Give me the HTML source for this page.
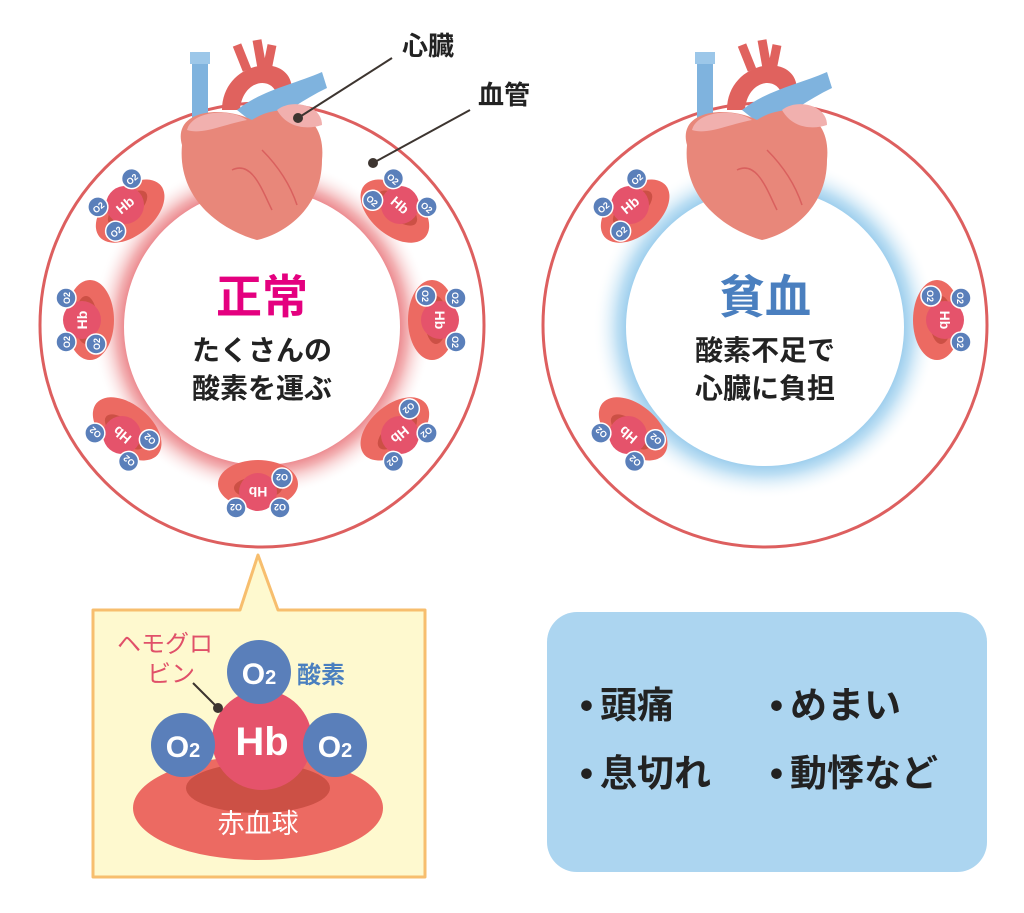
<!DOCTYPE html>
<html><head><meta charset="utf-8"><style>
body{margin:0;background:#fff;}
svg text{font-family:"Liberation Sans","Noto Sans CJK JP",sans-serif;}
</style></head><body>
<svg width="1024" height="908" viewBox="0 0 1024 908" xmlns="http://www.w3.org/2000/svg">
<defs>
<radialGradient id="pg" cx="0.5" cy="0.5" r="0.5">
<stop offset="0.78" stop-color="#e8737a"/><stop offset="0.86" stop-color="#f3b3b5"/><stop offset="1" stop-color="#fff" stop-opacity="0"/>
</radialGradient>
<radialGradient id="bg" cx="0.5" cy="0.5" r="0.5">
<stop offset="0.78" stop-color="#8ec6ea"/><stop offset="0.86" stop-color="#bfe0f4"/><stop offset="1" stop-color="#fff" stop-opacity="0"/>
</radialGradient>
<g id="cell">
<ellipse cx="0" cy="8" rx="40" ry="24" fill="#ec6a62"/>
<ellipse cx="0" cy="4" rx="24" ry="11" fill="#cc5045"/>
<circle cx="0" cy="0" r="19" fill="#e5536b"/>
<text x="0" y="5" font-size="14" font-weight="bold" fill="#fff" text-anchor="middle">Hb</text>
<circle cx="-22" cy="-16" r="10" fill="#5a7fba" stroke="#fff" stroke-width="1.5"/>
<circle cx="22" cy="-16" r="10" fill="#5a7fba" stroke="#fff" stroke-width="1.5"/>
<circle cx="-24" cy="14" r="10" fill="#5a7fba" stroke="#fff" stroke-width="1.5"/>
<text x="-22" y="-12" font-size="9" font-weight="bold" fill="#fff" text-anchor="middle">O2</text>
<text x="22" y="-12" font-size="9" font-weight="bold" fill="#fff" text-anchor="middle">O2</text>
<text x="-24" y="18" font-size="9" font-weight="bold" fill="#fff" text-anchor="middle">O2</text>
</g>
<g id="heart">
<path d="M-60,-90 h16 v120 h-16 z" fill="#7fb3de"/>
<path d="M-62,-98 h20 v12 h-20z" fill="#9cc7e9"/>
<path d="M-30,-40 C-30,-90 40,-100 40,-60 L25,-55 C20,-75 -10,-70 -12,-40 z" fill="#e0625e"/>
<path d="M-15,-105 l10,25 M5,-110 l5,28 M20,-105 l-5,25" stroke="#e0625e" stroke-width="9"/>
<path d="M-15,-40 C10,-60 40,-65 70,-78 L75,-62 C50,-50 30,-35 10,-20 z" fill="#7fb3de"/>
<path d="M-70,-5 C-80,-40 -30,-45 0,-30 C30,-50 75,-40 70,10 C70,60 30,85 5,90 C-30,80 -75,50 -70,-5 z" fill="#e8877a"/>
<path d="M-65,-20 C-60,-40 -20,-42 -5,-30 C-30,-25 -50,-15 -65,-20z" fill="#f1b0ae"/>
<path d="M25,-40 C40,-52 70,-45 70,-25 C55,-20 35,-22 25,-40z" fill="#f1b0ae"/>
<path d="M-20,20 C0,10 10,40 20,60 M10,0 C30,20 40,40 45,55" stroke="#d9605e" stroke-width="1.5" fill="none"/>
</g>
</defs>

<circle cx="262" cy="325" r="222" fill="#fff" stroke="#dd5f5f" stroke-width="3"/>
<circle cx="262" cy="327" r="170" fill="url(#pg)"/>
<circle cx="262" cy="327" r="138" fill="#fff"/>
<use href="#heart" x="252" y="150"/>
<use href="#cell" x="125" y="205" transform="rotate(-40 125 205)"/>
<use href="#cell" x="400" y="205" transform="rotate(40 400 205)"/>
<use href="#cell" x="82" y="320" transform="rotate(-90 82 320)"/>
<use href="#cell" x="440" y="320" transform="rotate(90 440 320)"/>
<use href="#cell" x="122" y="435" transform="rotate(-140 122 435)"/>
<use href="#cell" x="400" y="435" transform="rotate(140 400 435)"/>
<use href="#cell" x="258" y="492" transform="rotate(180 258 492)"/>
<text x="262" y="313" font-size="46" font-weight="bold" fill="#e4007f" text-anchor="middle">正常</text>
<text x="262" y="360" font-size="28" font-weight="bold" fill="#222" text-anchor="middle">たくさんの</text>
<text x="262" y="398" font-size="28" font-weight="bold" fill="#222" text-anchor="middle">酸素を運ぶ</text>

<line x1="298" y1="118" x2="392" y2="58" stroke="#3d3530" stroke-width="2"/>
<circle cx="298" cy="118" r="5" fill="#3d3530"/>
<line x1="373" y1="163" x2="470" y2="110" stroke="#3d3530" stroke-width="2"/>
<circle cx="373" cy="163" r="5" fill="#3d3530"/>
<text x="402" y="55" font-size="26" font-weight="bold" fill="#222">心臓</text>
<text x="478" y="104" font-size="26" font-weight="bold" fill="#222">血管</text>

<circle cx="765" cy="325" r="222" fill="#fff" stroke="#dd5f5f" stroke-width="3"/>
<circle cx="765" cy="327" r="172" fill="url(#bg)"/>
<circle cx="765" cy="327" r="139" fill="#fff"/>
<use href="#heart" x="757" y="150"/>
<use href="#cell" x="630" y="205" transform="rotate(-40 630 205)"/>
<use href="#cell" x="945" y="320" transform="rotate(90 945 320)"/>
<use href="#cell" x="628" y="435" transform="rotate(-140 628 435)"/>
<text x="765" y="313" font-size="46" font-weight="bold" fill="#4a7fbf" text-anchor="middle">貧血</text>
<text x="765" y="360" font-size="28" font-weight="bold" fill="#222" text-anchor="middle">酸素不足で</text>
<text x="765" y="398" font-size="28" font-weight="bold" fill="#222" text-anchor="middle">心臓に負担</text>

<path d="M93,610 H240 L258,555 L278,610 H425 V877 H93 Z" fill="#fef9cf" stroke="#f7be6e" stroke-width="3" stroke-linejoin="round"/>
<ellipse cx="258" cy="808" rx="125" ry="52" fill="#ec6a62"/>
<ellipse cx="258" cy="788" rx="72" ry="25" fill="#cc5045"/>
<circle cx="262" cy="740" r="50" fill="#e5536b"/>
<circle cx="259" cy="672" r="32" fill="#5a7fba"/>
<circle cx="183" cy="745" r="32" fill="#5a7fba"/>
<circle cx="335" cy="745" r="32" fill="#5a7fba"/>
<text x="259" y="684" font-size="30" font-weight="bold" fill="#fff" text-anchor="middle">O<tspan font-size="20">2</tspan></text>
<text x="183" y="757" font-size="30" font-weight="bold" fill="#fff" text-anchor="middle">O<tspan font-size="20">2</tspan></text>
<text x="335" y="757" font-size="30" font-weight="bold" fill="#fff" text-anchor="middle">O<tspan font-size="20">2</tspan></text>
<text x="262" y="755" font-size="40" font-weight="bold" fill="#fff" text-anchor="middle">Hb</text>
<text x="258" y="833" font-size="27" fill="#fff" text-anchor="middle">赤血球</text>
<text x="117" y="652" font-size="24" fill="#e05069">ヘモグロ</text>
<text x="147" y="682" font-size="24" fill="#e05069">ビン</text>
<text x="297" y="683" font-size="24" font-weight="bold" fill="#4a7fbf">酸素</text>
<line x1="193" y1="683" x2="218" y2="708" stroke="#3d3530" stroke-width="2"/>
<circle cx="218" cy="708" r="5" fill="#3d3530"/>

<rect x="547" y="612" width="440" height="260" rx="30" fill="#acd5f0"/>
<g font-size="37" font-weight="bold" fill="#222">
<text x="580" y="718">•</text><text x="600" y="718">頭痛</text>
<text x="770" y="718">•</text><text x="790" y="718">めまい</text>
<text x="580" y="786">•</text><text x="600" y="786">息切れ</text>
<text x="770" y="786">•</text><text x="790" y="786">動悸など</text>
</g>
</svg>
</body></html>
